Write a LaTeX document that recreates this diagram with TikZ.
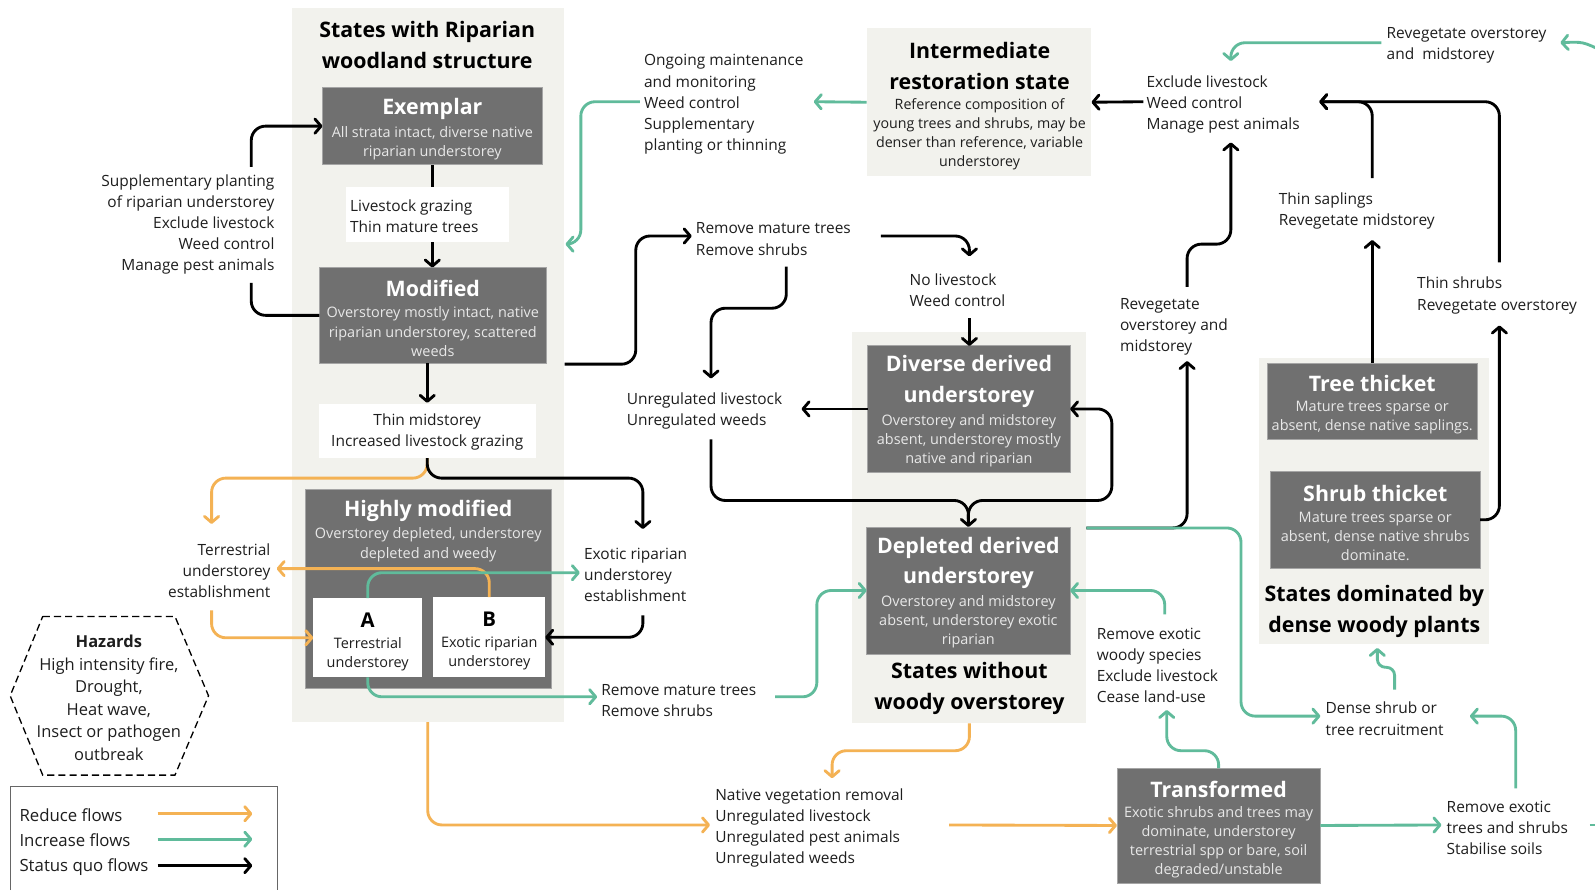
\documentclass[tikz,border=0pt]{standalone}
\usepackage{fontspec}
\setmainfont{Open Sans}
\usetikzlibrary{arrows.meta,calc}
\definecolor{panelbg}{RGB}{242,242,237}
\definecolor{stategray}{RGB}{112,112,112}
\definecolor{stateline}{RGB}{165,165,165}
\definecolor{subtxt}{RGB}{232,232,232}
\definecolor{reduceC}{RGB}{244,178,84}
\definecolor{increaseC}{RGB}{96,187,155}
\definecolor{txt}{RGB}{30,30,30}
\begin{document}
\begin{tikzpicture}[x=1pt,y=-1pt,
  panel/.style={fill=panelbg,draw=none,inner sep=0,outer sep=0},
  statebox/.style={fill=stategray,draw=stateline,line width=0.8pt,inner sep=0,outer sep=0},
  whitebox/.style={fill=white,draw=none,inner sep=0,outer sep=0},
  stitle/.style={text=white,font=\fontsize{21}{30}\selectfont\bfseries,inner sep=0,align=center},
  ssub/.style={text=subtxt,font=\fontsize{14.2}{18.8}\selectfont,inner sep=0,align=center},
  ptitle/.style={text=black,font=\fontsize{21}{30}\selectfont\bfseries,inner sep=0,align=center},
  lbl/.style={text=txt,font=\fontsize{15.2}{20.7}\selectfont,inner sep=0,align=left,anchor=west},
  lblr/.style={text=txt,font=\fontsize{15.2}{20.7}\selectfont,inner sep=0,align=right,anchor=east},
  lblc/.style={text=txt,font=\fontsize{15.2}{20.7}\selectfont,inner sep=0,align=center},
  flow/.style={line width=2.8pt,rounded corners=14pt},
  arrowend/.style={-{Straight Barb[length=6pt,width=14pt,round]}},
  quoflow/.style={flow,draw=black},
  incflow/.style={flow,draw=increaseC},
  redflow/.style={flow,draw=reduceC},
]
\useasboundingbox (0,0) rectangle (1568,875);
\fill[white] (0,0) rectangle (1568,875);

% ---------- panels ----------
\node[panel,minimum width=267pt,minimum height=702pt] (p1) at (420.5,359) {};
\node[panel,minimum width=221pt,minimum height=145pt] (p2) at (962.5,100.5) {};
\node[panel,minimum width=230pt,minimum height=385pt] (p3) at (953,518.5) {};
\node[panel,minimum width=226pt,minimum height=281pt] (p4) at (1351,492.5) {};

\node[ptitle] (p1title) at (420,44) {States with Riparian\\woodland structure};
\node[ptitle] (p2title) at (963,65) {Intermediate\\restoration state};
\node[text=txt,font=\fontsize{14}{18.8}\selectfont,inner sep=0,align=center] (p2sub) at (963,132) {Reference composition of\\young trees and shrubs, may be\\denser than reference, variable\\understorey};
\node[ptitle] (p3title) at (953,677) {States without\\woody overstorey};
\node[ptitle] (p4title) at (1351,601) {States dominated by\\dense woody plants};

% ---------- state boxes ----------
\node[statebox,minimum width=216pt,minimum height=76pt] (exemplar) at (425,124) {};
\node[stitle] (exemplarT) at (425,107) {Exemplar};
\node[ssub] (exemplarS) at (425,140.5) {All strata intact, diverse native\\riparian understorey};

\node[statebox,minimum width=223pt,minimum height=94pt] (modified) at (425.5,310) {};
\node[stitle] (modifiedT) at (425.5,284) {Modified};
\node[ssub] (modifiedS) at (425.5,326) {Overstorey mostly intact, native\\riparian understorey, scattered\\weeds};

\node[statebox,minimum width=242pt,minimum height=196pt] (highly) at (421,579) {};
\node[stitle] (highlyT) at (421,502) {Highly modified};
\node[ssub] (highlyS) at (421,535.5) {Overstorey depleted, understorey\\depleted and weedy};

\node[whitebox,minimum width=107pt,minimum height=78pt] (boxA) at (361.5,627) {};
\node[text=black,font=\fontsize{20}{24}\selectfont\bfseries,inner sep=0] (boxAT) at (361.5,610) {A};
\node[text=txt,font=\fontsize{14.2}{18.8}\selectfont,inner sep=0,align=center] (boxAS) at (361.5,643.5) {Terrestrial\\understorey};

\node[whitebox,minimum width=110pt,minimum height=79pt] (boxB) at (481,626.5) {};
\node[text=black,font=\fontsize{20}{24}\selectfont\bfseries,inner sep=0] (boxBT) at (481,609) {B};
\node[text=txt,font=\fontsize{14.2}{18.8}\selectfont,inner sep=0,align=center] (boxBS) at (481,642.5) {Exotic riparian\\understorey};

\node[statebox,minimum width=199pt,minimum height=124pt] (diverse) at (952.5,402) {};
\node[stitle] (diverseT) at (952.5,375) {Diverse derived\\understorey};
\node[ssub] (diverseS) at (952.5,433) {Overstorey and midstorey\\absent, understorey mostly\\native and riparian};

\node[statebox,minimum width=200pt,minimum height=125pt] (depleted) at (952,580.5) {};
\node[stitle] (depletedT) at (952,553.5) {Depleted derived\\understorey};
\node[ssub] (depletedS) at (952,611) {Overstorey and midstorey\\absent, understorey exotic\\riparian};

\node[statebox,minimum width=206pt,minimum height=75pt] (tree) at (1349,394.5) {};
\node[stitle] (treeT) at (1349,377) {Tree thicket};
\node[ssub] (treeS) at (1349,410.5) {Mature trees sparse or\\absent, dense native saplings.};

\node[statebox,minimum width=206pt,minimum height=96pt] (shrub) at (1352,511) {};
\node[stitle] (shrubT) at (1352,485) {Shrub thicket};
\node[ssub] (shrubS) at (1352,527) {Mature trees sparse or\\absent, dense native shrubs\\dominate.};

\node[statebox,minimum width=200pt,minimum height=113pt] (transformed) at (1198,811.5) {};
\node[stitle] (transformedT) at (1198,776) {Transformed};
\node[ssub] (transformedS) at (1198,828) {Exotic shrubs and trees may\\dominate, understorey\\terrestrial spp or bare, soil\\degraded/unstable};

% ---------- connector end coordinates ----------
\coordinate (suppB) at (247,278);
\coordinate (suppT) at (247,164);
\coordinate (exoEstTop) at (632,520);
\coordinate (exoEstBot) at (632,605);
\coordinate (exoEstW) at (570,563);
\coordinate (terrEstTop) at (208,515);
\coordinate (terrEstE) at (272,559);
\coordinate (terrEstBot) at (208,600);
\coordinate (modOut) at (555,358);
\coordinate (remTopW) at (680,232);
\coordinate (remTopE) at (866,232);
\coordinate (remTopBot) at (773,262);
\coordinate (noLiveTop) at (953,252);
\coordinate (noLiveBot) at (953,313);
\coordinate (unregTop) at (699,372);
\coordinate (unregE) at (788,402);
\coordinate (unregBot) at (699,432);
\coordinate (depOut) at (1068,519);
\coordinate (revegOMBot) at (1167,355);
\coordinate (revegOMTop) at (1167,282);
\coordinate (excludeBot) at (1210,140);
\coordinate (excludeE) at (1297,100);
\coordinate (excludeW) at (1124,100);
\coordinate (excludeTop) at (1210,60);
\coordinate (thinSapBot) at (1349,236);
\coordinate (thinSapTop) at (1349,175);
\coordinate (thinShrTop) at (1474,258);
\coordinate (thinShrBot) at (1474,320);
\coordinate (ongoingE) at (800,100);
\coordinate (ongoingW) at (629,100);
\coordinate (p1in) at (556,240);
\coordinate (remBotW) at (587,685);
\coordinate (remBotE) at (762,685);
\coordinate (remExWTop) at (1145,604);
\coordinate (remExWBot) at (1147,698);
\coordinate (denseW) at (1298,704);
\coordinate (denseE) at (1445,704);
\coordinate (denseTop) at (1371,678);
\coordinate (p4in) at (1354,637);
\coordinate (remExTTop) at (1490,775);
\coordinate (remExTW) at (1417,811);
\coordinate (remExTE) at (1563,811);
\coordinate (edgeB) at (1575,811);
\coordinate (edgeT) at (1575,50);
\coordinate (revegTopE) at (1534,42);
\coordinate (revegTopW) at (1358,42);
\coordinate (nativeTop) at (818,765);
\coordinate (nativeW) at (698,811);
\coordinate (nativeE) at (933,811);

% ---------- status quo flows ----------
\draw[quoflow,arrowend] (exemplar.south) -- (exemplar.south |- modified.north);
\draw[quoflow] (modified.west) -| (suppB);
\draw[quoflow,arrowend] (suppT) |- (exemplar.west);
\draw[quoflow,arrowend] (420,357) -- (420,396);
\draw[redflow,arrowend] (420,450) |- (208,470) -- (terrEstTop);
\draw[quoflow,arrowend] (420,450) |- (632,470) -- (exoEstTop);
\draw[quoflow,arrowend] (exoEstBot) |- (boxB.east);
\draw[quoflow,arrowend] (modOut) -- (625,358) -- (625,232) -- (remTopW);
\draw[quoflow,arrowend] (remTopE) -| (noLiveTop);
\draw[quoflow,arrowend] (noLiveBot) -- (noLiveBot |- diverse.north);
\draw[quoflow,arrowend] (remTopBot) -- (773,303) -- (699,303) -- (unregTop);
\draw[quoflow,arrowend] (diverse.west) -- (unregE);
\draw[quoflow,arrowend] (unregBot) |- (952,492) -- (depleted.north);
\draw[quoflow,arrowend] (952,510) -- (952,492) -- (1093,492) -- (1093,402) -- (diverse.east);
\draw[quoflow,arrowend] (depOut) -- (1167,519) -- (revegOMBot);
\draw[quoflow,arrowend] (revegOMTop) -- (1167,240) -- (1210,240) -- (excludeBot);
\draw[quoflow,arrowend] (tree.north) -- (thinSapBot);
\draw[quoflow,arrowend] (thinSapTop) |- (excludeE);
\draw[quoflow,arrowend] (thinShrTop) |- (excludeE);
\draw[quoflow,arrowend] (shrub.east) -| (thinShrBot);
\draw[quoflow,arrowend] (excludeW) -- (p2.east);

% ---------- reduce flows ----------
\draw[redflow,arrowend] (boxB.north) |- (terrEstE);
\draw[redflow,arrowend] (terrEstBot) |- (boxA.west);
\draw[redflow,arrowend] (p3.south) -- (953,738) -- (818,738) -- (nativeTop);
\draw[redflow,arrowend] (p1.south) |- (nativeW);
\draw[redflow,arrowend] (nativeE) -- (transformed.west);

% ---------- increase flows ----------
\draw[incflow,arrowend] (p2.west) -- (ongoingE);
\draw[incflow,arrowend] (ongoingW) -- (571,100) -- (571,240) -- (p1in);
\draw[incflow,arrowend] (boxA.north) |- (exoEstW);
\draw[incflow,arrowend] (boxA.south) |- (remBotW);
\draw[incflow,arrowend] (remBotE) -- (803,685) -- (803,580.5) -- (depleted.west);
\draw[incflow,arrowend] (remExWTop) |- (depleted.east);
\draw[incflow,arrowend] (transformed.north) -- (1198,738) -- (1147,738) -- (remExWBot);
\draw[incflow,arrowend] (depOut) -- (1220,519) -- (1220,704) -- (denseW);
\draw[incflow,arrowend,rounded corners=8pt] (denseTop) -- (1371,656) -- (1354,656) -- (p4in);
\draw[incflow,arrowend] (remExTTop) |- (denseE);
\draw[incflow,arrowend] (transformed.east) -- (remExTW);
\draw[incflow] (remExTE) -- (edgeB);
\draw[incflow,arrowend] (edgeT) .. controls (1556,41) .. (revegTopE);
\draw[incflow,arrowend] (revegTopW) -| (excludeTop);

% ---------- white label boxes ----------
\node[whitebox,minimum width=160pt,minimum height=54pt] (lbl1) at (420,211) {};
\node[lbl] (lbl1t) at (344,213) {Livestock grazing\\Thin mature trees};
\node[whitebox,minimum width=213pt,minimum height=53pt] (lbl2) at (420.5,423.5) {};
\node[lblc] (lbl2t) at (420,425) {Thin midstorey\\Increased livestock grazing};

% ---------- text labels ----------
\node[lblr] (supp) at (270,221) {Supplementary planting\\of riparian understorey\\Exclude livestock\\Weed control\\Manage pest animals};
\node[lbl] (ongoing) at (633,102.5) {Ongoing maintenance\\and monitoring\\Weed control\\Supplementary\\planting or thinning};
\node[lbl] (exclude) at (1127,102.3) {Exclude livestock\\Weed control\\Manage pest animals};
\node[lbl] (revegTop) at (1363,45) {Revegetate overstorey\\and\ \ midstorey};
\node[lbl] (remTop) at (684,235) {Remove mature trees\\Remove shrubs};
\node[lbl] (noLive) at (894,285) {No livestock\\Weed control};
\node[lbl] (unreg) at (616,404) {Unregulated livestock\\Unregulated weeds};
\node[lblr] (terrEst) at (266,561) {Terrestrial\\understorey\\establishment};
\node[lbl] (exoEst) at (574,565) {Exotic riparian\\understorey\\establishment};
\node[lbl] (remBot) at (591,688.5) {Remove mature trees\\Remove shrubs};
\node[lbl] (native) at (703,814) {Native vegetation removal\\Unregulated livestock\\Unregulated pest animals\\Unregulated weeds};
\node[lbl] (remExW) at (1078,654) {Remove exotic\\woody species\\Exclude livestock\\Cease land-use};
\node[lbl] (revegOM) at (1101,321) {Revegetate\\overstorey and\\midstorey};
\node[lbl] (thinSap) at (1257,207) {Thin saplings\\Revegetate midstorey};
\node[lbl] (thinShr) at (1393,290.5) {Thin shrubs\\Revegetate overstorey};
\node[lbl] (dense) at (1303,706.5) {Dense shrub or\\tree recruitment};
\node[lbl] (remExT) at (1422,814) {Remove exotic\\trees and shrubs\\Stabilise soils};

% ---------- hazards ----------
\draw[line width=1.3pt,dash pattern=on 7pt off 4pt] (42,606) -- (172,606) -- (205,684) -- (172,762) -- (42,762) -- (10,684) -- cycle;
\node[text=txt,font=\fontsize{16.2}{22.2}\selectfont,inner sep=0,align=center] (hazards) at (107,686) {\textbf{Hazards}\\High intensity fire,\\Drought,\\Heat wave,\\Insect or pathogen\\outbreak};

% ---------- legend ----------
\draw[line width=0.9pt,draw=black!60] (10,875) -- (10,773) -- (273,773) -- (273,875);
\node[lbl,font=\fontsize{16.5}{20}\selectfont] (lgR) at (19,801) {Reduce flows};
\node[lbl,font=\fontsize{16.5}{20}\selectfont] (lgI) at (19,826) {Increase flows};
\node[lbl,font=\fontsize{16.5}{20}\selectfont] (lgS) at (19,852) {Status quo flows};
\coordinate (lgR1) at (155,800); \coordinate (lgR2) at (248,800);
\coordinate (lgI1) at (155,825); \coordinate (lgI2) at (248,825);
\coordinate (lgS1) at (155,851); \coordinate (lgS2) at (248,851);
\draw[redflow,arrowend] (lgR1) -- (lgR2);
\draw[incflow,arrowend] (lgI1) -- (lgI2);
\draw[quoflow,arrowend] (lgS1) -- (lgS2);
\end{tikzpicture}
\end{document}
